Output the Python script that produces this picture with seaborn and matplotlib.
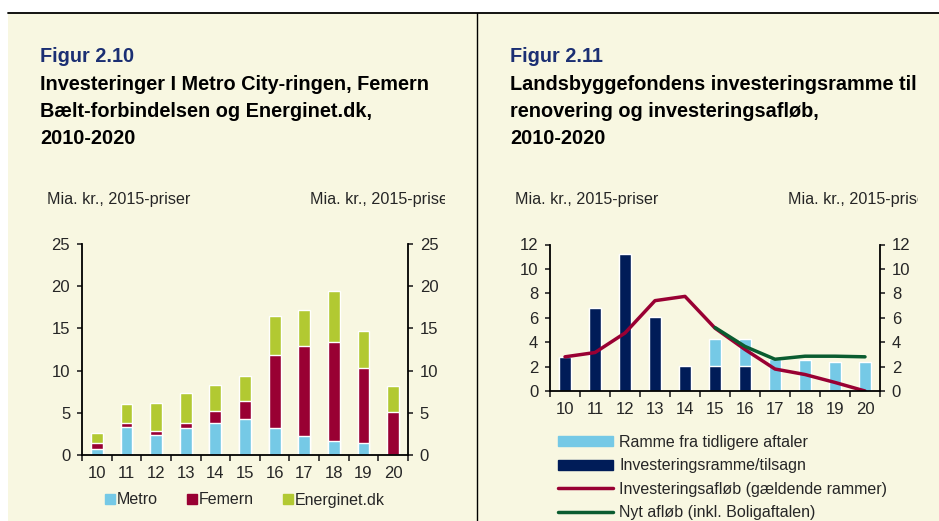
import numpy as np
import pandas as pd
import seaborn as sns
import matplotlib.pyplot as plt
from matplotlib.patches import Rectangle, Patch
from matplotlib.lines import Line2D

# ---- data ----
years = [10, 11, 12, 13, 14, 15, 16, 17, 18, 19, 20]
metro = [0.7, 3.3, 2.35, 3.2, 3.85, 4.25, 3.15, 2.3, 1.7, 1.4, 0.0]
femern = [0.75, 0.55, 0.55, 0.65, 1.4, 2.2, 8.7, 10.65, 11.65, 8.9, 5.15]
energinet = [1.2, 2.25, 3.3, 3.45, 3.0, 2.9, 4.6, 4.2, 6.05, 4.4, 3.05]

ramme_tidl = [0, 0, 0, 0, 0, 2.25, 2.25, 2.6, 2.5, 2.35, 2.35]
inv_ramme = [2.8, 6.8, 11.25, 6.05, 2.05, 2.05, 2.05, 0, 0, 0, 0]
afloeb = [2.8, 3.15, 4.75, 7.4, 7.75, 5.15, 3.4, 1.8, 1.35, 0.7, 0.0]
nyt_years = [15, 16, 17, 18, 19, 20]
nyt_afloeb = [5.2, 3.65, 2.6, 2.85, 2.85, 2.8]

BG = "#F8F7E1"
C_METRO = "#75C9E6"
C_FEMERN = "#990033"
C_ENERGI = "#B2C932"
C_NAVY = "#001C58"
C_GREEN = "#0A5C30"
C_FIG = "#1B2F73"

W, H = 939, 521
TICK_FS = 12
LEG_FS = 11.5

sns.set_style("ticks")
plt.rcParams["font.family"] = ["Liberation Sans", "DejaVu Sans"]

fig = plt.figure(figsize=(W / 100, H / 100), dpi=100, facecolor="white")


def fx(px):
    return px / W


def fy(py):
    return 1 - py / H


fig.patches.append(Rectangle((fx(8), 0), 1, fy(13), transform=fig.transFigure,
                             facecolor=BG, edgecolor="none", zorder=-10))
fig.add_artist(Line2D([fx(8), 1], [fy(13), fy(13)], color="black", lw=1.3))
fig.add_artist(Line2D([fx(477), fx(477)], [fy(13), 0], color="black", lw=1.0))


def header(x, fig_no, lines):
    fig.text(fx(x), fy(62), fig_no, color=C_FIG, fontsize=14.3,
             fontweight="bold", va="baseline")
    for i, line in enumerate(lines):
        fig.text(fx(x), fy(90 + 27 * i), line, color="black", fontsize=14.3,
                 fontweight="bold", va="baseline")


def unit_labels(xl, xr, cut_at, cut_to):
    fig.text(fx(xl), fy(204), "Mia. kr., 2015-priser", fontsize=11.6, va="baseline")
    fig.text(fx(xr), fy(204), "Mia. kr., 2015-priser", fontsize=11.6, va="baseline")
    # the reference cuts this label off at the panel edge
    fig.patches.append(Rectangle((fx(cut_at), fy(212)), fx(cut_to) - fx(cut_at),
                                 fy(188) - fy(212), transform=fig.transFigure,
                                 facecolor=BG, edgecolor="none", zorder=5))


def style_axis(ax, ymax, step):
    ax.set_facecolor("none")
    ax.set_xlim(9.5, 20.5)
    ax.set_ylim(0, ymax)
    ax.set_yticks(np.arange(0, ymax + 0.1, step))
    ax.set_xticks(years)
    ax.set_xticks(np.arange(9.5, 21, 1), minor=True)
    ax.tick_params(axis="x", which="major", length=0, pad=8, labelsize=TICK_FS)
    ax.tick_params(axis="x", which="minor", length=4, width=1.2, direction="out")
    ax.tick_params(axis="y", left=True, right=True, labelleft=True, labelright=True,
                   length=3.5, width=1.2, labelsize=TICK_FS, pad=5)
    for s in ["left", "right", "bottom"]:
        ax.spines[s].set_visible(True)
        ax.spines[s].set_linewidth(1.3)
        ax.spines[s].set_color("black")
    ax.spines["top"].set_visible(False)
    ax.set_xlabel("")
    ax.set_ylabel("")


# ---- left panel ----
header(40, "Figur 2.10", ["Investeringer I Metro City-ringen, Femern",
                          "Bælt-forbindelsen og Energinet.dk,", "2010-2020"])
unit_labels(47, 310, 445, 476)

df1 = pd.DataFrame({"year": years, "metro": metro, "femern": femern, "energinet": energinet})
df1["mf"] = df1["metro"] + df1["femern"]
df1["total"] = df1["mf"] + df1["energinet"]

ax1 = fig.add_axes([fx(82), fy(455), fx(408) - fx(82), fy(244) - fy(455)])
sns.barplot(data=df1, x="year", y="total", native_scale=True, width=0.4,
            color=C_ENERGI, saturation=1, ax=ax1)
sns.barplot(data=df1, x="year", y="mf", native_scale=True, width=0.4,
            color=C_FEMERN, saturation=1, ax=ax1)
sns.barplot(data=df1, x="year", y="metro", native_scale=True, width=0.4,
            color=C_METRO, saturation=1, ax=ax1)
style_axis(ax1, 25, 5)

fig.legend(handles=[Patch(color=C_METRO, label="Metro"),
                    Patch(color=C_FEMERN, label="Femern"),
                    Patch(color=C_ENERGI, label="Energinet.dk")],
           loc="center", bbox_to_anchor=(fx(245), fy(500)), ncol=3, frameon=False,
           fontsize=LEG_FS, handlelength=0.6, handleheight=0.6, handletextpad=0.12,
           columnspacing=1.85, borderpad=0)

# ---- right panel ----
header(510, "Figur 2.11", ["Landsbyggefondens investeringsramme til",
                           "renovering og investeringsafløb,", "2010-2020"])
unit_labels(515, 788, 918, 939)

df2 = pd.DataFrame({"year": years, "tidl": ramme_tidl, "inv": inv_ramme, "afloeb": afloeb})
df2["bar_total"] = df2["tidl"] + df2["inv"]
df3 = pd.DataFrame({"year": nyt_years, "nyt": nyt_afloeb})

ax2 = fig.add_axes([fx(550), fy(391), fx(880) - fx(550), fy(244.5) - fy(391)])
sns.barplot(data=df2, x="year", y="bar_total", native_scale=True, width=0.38,
            color=C_METRO, saturation=1, ax=ax2)
sns.barplot(data=df2, x="year", y="inv", native_scale=True, width=0.38,
            color=C_NAVY, saturation=1, ax=ax2)
sns.lineplot(data=df2, x="year", y="afloeb", color=C_FEMERN, lw=2.5, ax=ax2)
sns.lineplot(data=df3, x="year", y="nyt", color=C_GREEN, lw=2.5, ax=ax2)
style_axis(ax2, 12, 2)

fig.legend(handles=[Patch(color=C_METRO, label="Ramme fra tidligere aftaler"),
                    Patch(color=C_NAVY, label="Investeringsramme/tilsagn"),
                    Line2D([], [], color=C_FEMERN, lw=2.5,
                           label="Investeringsafløb (gældende rammer)"),
                    Line2D([], [], color=C_GREEN, lw=2.5,
                           label="Nyt afløb (inkl. Boligaftalen)")],
           loc="upper left", bbox_to_anchor=(fx(558), fy(435)), frameon=False,
           fontsize=LEG_FS, handlelength=3.45, handleheight=0.6, handletextpad=0.4,
           labelspacing=0.52, borderpad=0, borderaxespad=0)

fig.savefig("out.png", dpi=100, facecolor="white")
